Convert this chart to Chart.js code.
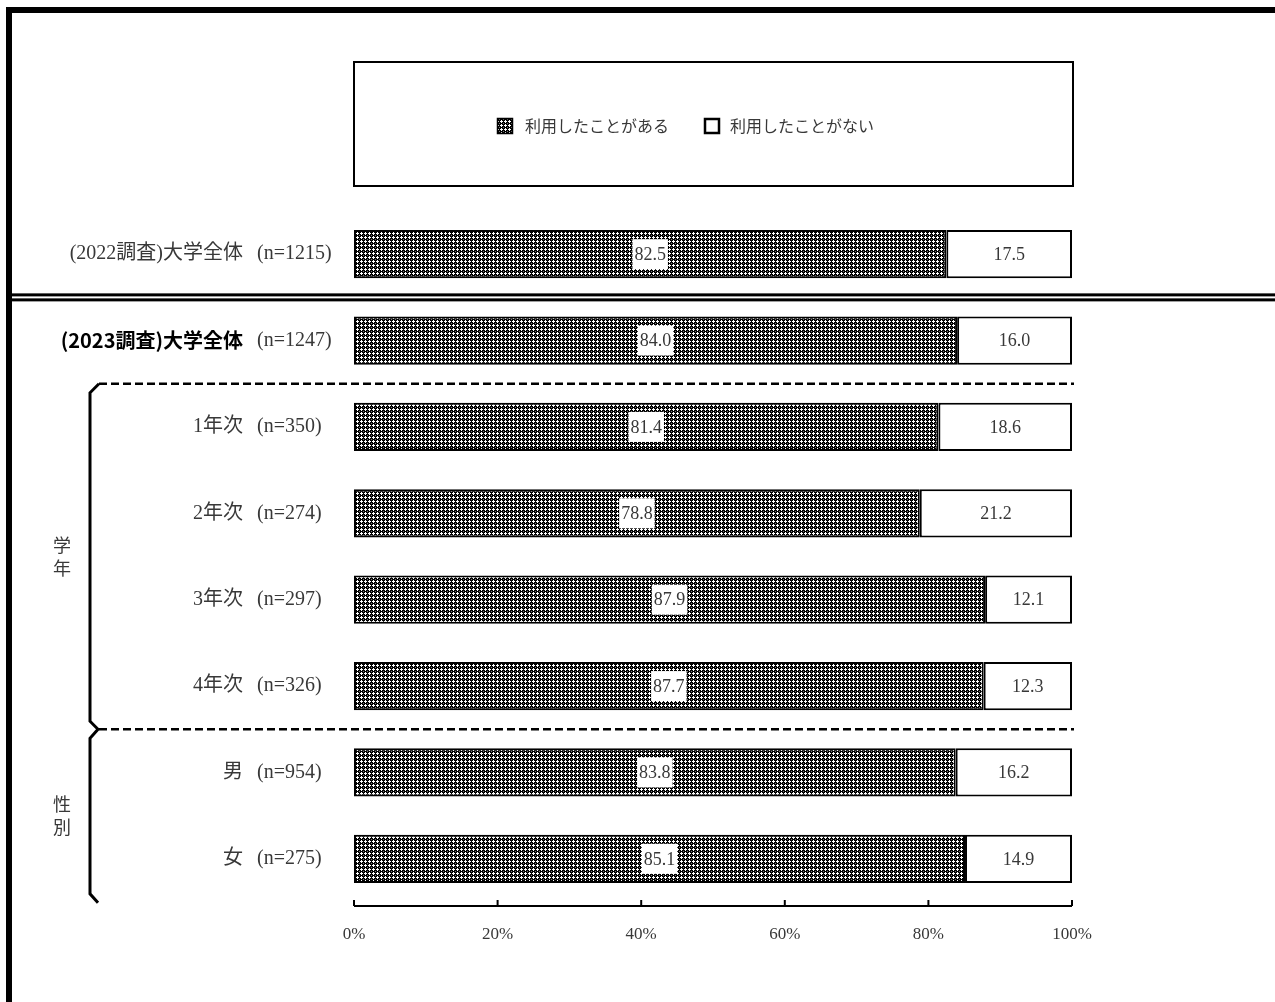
<!DOCTYPE html>
<html lang="ja">
<head>
<meta charset="utf-8">
<script src="https://cdn.jsdelivr.net/npm/chart.js@4.4.1/dist/chart.umd.min.js"></script>
<style>
  html, body { margin: 0; padding: 0; background: #fff; }
  #wrap { width: 1275px; height: 1002px; }
</style>
</head>
<body>
<div id="wrap"><canvas id="usageChart" width="1275" height="1002"></canvas></div>
<script>
// data
const categories = ["(2022調査)大学全体", "(2023調査)大学全体", "1年次", "2年次", "3年次", "4年次", "男", "女"];
const sampleSizes = [1215, 1247, 350, 274, 297, 326, 954, 275];
const usedValues = [82.5, 84.0, 81.4, 78.8, 87.9, 87.7, 83.8, 85.1];
const notUsedValues = [17.5, 16.0, 18.6, 21.2, 12.1, 12.3, 16.2, 14.9];
const seriesNames = ["利用したことがある", "利用したことがない"];
const xTicks = [0, 20, 40, 60, 80, 100];
const groupNames = ["学年", "性別"];
const groupRows = [[2, 5], [6, 7]];

const SERIF = "'Liberation Serif', 'Noto Sans CJK JP', serif";
const SANS = "'Noto Sans CJK JP', sans-serif";
const TEXT = "#383838";

const canvas = document.getElementById("usageChart");
const ctx = canvas.getContext("2d");

function makePattern(c) {
  const tile = document.createElement("canvas");
  tile.width = 4;
  tile.height = 4;
  const p = tile.getContext("2d");
  p.fillStyle = "#000";
  p.fillRect(0, 0, 4, 4);
  p.fillStyle = "#fff";
  p.fillRect(1, 0, 1, 3);
  p.fillRect(0, 1, 3, 1);
  p.fillStyle = "#777";
  p.fillRect(3, 3, 1, 1);
  return c.createPattern(tile, "repeat");
}
const pattern = makePattern(ctx);

// frame, legend box, separators, brackets, labels, axis
const decorations = {
  id: "decorations",
  beforeDraw(chart) {
    const c = chart.ctx;
    c.save();
    c.fillStyle = "#fff";
    c.fillRect(0, 0, chart.width, chart.height);
    c.restore();
  },
  afterDatasetsDraw(chart) {
    const c = chart.ctx;
    const xs = chart.scales.x;
    const ys = chart.scales.y;
    const area = chart.chartArea;
    c.save();

    // outer frame (top and left)
    c.fillStyle = "#000";
    c.fillRect(6, 7, chart.width - 6, 6);
    c.fillRect(6, 7, 6, chart.height - 7);

    // legend box
    c.lineWidth = 2;
    c.strokeStyle = "#000";
    c.strokeRect(354, 62, 719, 124);
    const ly = 126;
    c.fillStyle = pattern;
    c.fillRect(497, ly - 8, 16, 16);
    c.lineWidth = 1.5;
    c.strokeRect(497.5, ly - 7.5, 15, 15);
    c.fillStyle = "#fff";
    c.fillRect(704, ly - 8, 16, 16);
    c.lineWidth = 2.5;
    c.strokeRect(705, ly - 7, 14, 14);
    c.fillStyle = TEXT;
    c.font = "16px " + SANS;
    c.textAlign = "left";
    c.textBaseline = "middle";
    c.fillText(seriesNames[0], 525, ly);
    c.fillText(seriesNames[1], 730, ly);

    // double line between 2022 and 2023
    const yMid01 = (ys.getPixelForValue(0) + ys.getPixelForValue(1)) / 2;
    c.fillStyle = "#000";
    c.fillRect(12, yMid01 - 4, chart.width - 12, 3);
    c.fillRect(12, yMid01 + 1, chart.width - 12, 3);

    // dashed separators
    const yMid12 = (ys.getPixelForValue(1) + ys.getPixelForValue(2)) / 2;
    const yMid56 = (ys.getPixelForValue(5) + ys.getPixelForValue(6)) / 2;
    c.setLineDash([8, 4]);
    c.lineWidth = 2.5;
    c.strokeStyle = "#000";
    [yMid12, yMid56].forEach((y) => {
      c.beginPath();
      c.moveTo(99, y);
      c.lineTo(area.right + 2, y);
      c.stroke();
    });
    c.setLineDash([]);

    // brackets
    const bx = 90;
    const yBottom = ys.getPixelForValue(7) + 44;
    c.lineWidth = 3;
    c.beginPath();
    c.moveTo(99, yMid12);
    c.lineTo(bx, yMid12 + 9);
    c.lineTo(bx, yMid56 - 8);
    c.lineTo(98, yMid56);
    c.lineTo(bx, yMid56 + 9);
    c.lineTo(bx, yBottom - 9);
    c.lineTo(98, yBottom);
    c.stroke();

    // group names, vertical
    c.fillStyle = TEXT;
    c.font = "18px " + SANS;
    c.textAlign = "center";
    groupRows.forEach((rows, g) => {
      const yc = (ys.getPixelForValue(rows[0]) + ys.getPixelForValue(rows[1])) / 2;
      const chars = Array.from(groupNames[g]);
      chars.forEach((ch, k) => {
        c.fillText(ch, 62, yc + (k - (chars.length - 1) / 2) * 23);
      });
    });

    // category labels
    categories.forEach((cat, i) => {
      const y = ys.getPixelForValue(i);
      c.textAlign = "right";
      if (i === 1) {
        c.fillStyle = "#000";
        c.font = "bold 20px 'Liberation Sans Narrow', 'Noto Sans CJK JP', sans-serif";
      } else {
        c.fillStyle = TEXT;
        c.font = "20px " + SERIF;
      }
      c.fillText(cat, 243, y);
      c.textAlign = "left";
      c.fillStyle = TEXT;
      c.font = "20px " + SERIF;
      c.fillText("(n=" + sampleSizes[i] + ")", 257, y);
    });

    // x axis with inward ticks
    const axisY = area.bottom + 4;
    c.strokeStyle = "#000";
    c.lineWidth = 2;
    c.beginPath();
    c.moveTo(xs.getPixelForValue(0), axisY);
    c.lineTo(xs.getPixelForValue(100), axisY);
    c.stroke();
    xTicks.forEach((t) => {
      const x = xs.getPixelForValue(t);
      c.beginPath();
      c.moveTo(x, axisY);
      c.lineTo(x, axisY - 6);
      c.stroke();
    });

    // value labels
    c.textAlign = "center";
    c.textBaseline = "middle";
    c.font = "18px " + SERIF;
    chart.getDatasetMeta(0).data.forEach((el, i) => {
      const x = (el.x + el.base) / 2;
      const txt = usedValues[i].toFixed(1);
      const w = c.measureText(txt).width + 4;
      c.fillStyle = "#fff";
      c.fillRect(x - w / 2, el.y - 15, w, 30);
      c.fillStyle = TEXT;
      c.fillText(txt, x, el.y + 1);
    });
    chart.getDatasetMeta(1).data.forEach((el, i) => {
      const x = (el.x + el.base) / 2;
      c.fillStyle = TEXT;
      c.fillText(notUsedValues[i].toFixed(1), x, el.y + 1);
    });

    c.restore();
  },
};

new Chart(ctx, {
  type: "bar",
  data: {
    labels: categories,
    datasets: [
      {
        label: seriesNames[0],
        data: usedValues,
        backgroundColor: pattern,
        borderColor: "#000",
        borderWidth: 2,
        borderSkipped: false,
      },
      {
        label: seriesNames[1],
        data: notUsedValues,
        backgroundColor: "#fff",
        borderColor: "#000",
        borderWidth: 2,
        borderSkipped: false,
      },
    ],
  },
  options: {
    indexAxis: "y",
    responsive: false,
    animation: false,
    events: [],
    datasets: {
      bar: { barPercentage: 0.56, categoryPercentage: 1 },
    },
    layout: {
      padding: { left: 354, right: 203, top: 211, bottom: 0 },
    },
    plugins: {
      legend: { display: false },
      tooltip: { enabled: false },
    },
    scales: {
      x: {
        stacked: true,
        min: 0,
        max: 100,
        ticks: {
          stepSize: 20,
          callback: (v) => v + "%",
          padding: 22,
          color: TEXT,
          font: { family: "'Liberation Serif', serif", size: 17 },
        },
        grid: { display: false, drawTicks: false },
        border: { display: false },
        afterFit(scale) {
          scale.height = 100;
        },
      },
      y: {
        stacked: true,
        display: false,
      },
    },
  },
  plugins: [decorations],
});
</script>
</body>
</html>
